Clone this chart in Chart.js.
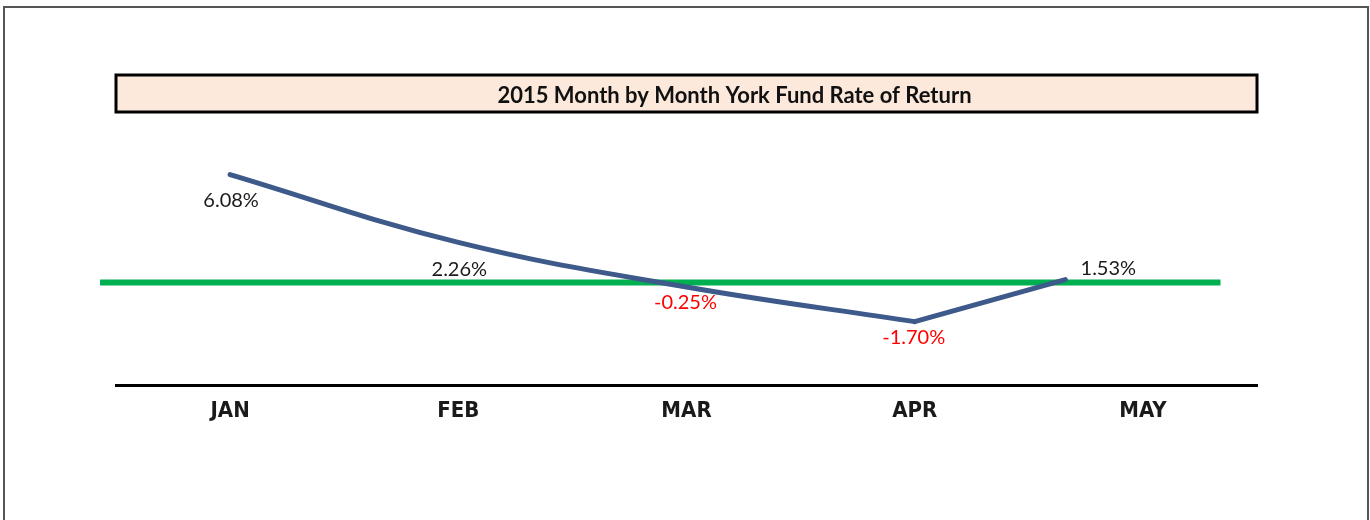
<!DOCTYPE html>
<html>
<head>
<meta charset="utf-8">
<script src="https://cdn.jsdelivr.net/npm/chart.js@4.4.0/dist/chart.umd.min.js"></script>
<style>
  body { margin: 0; background: #fff; overflow: hidden; }
  #frame { position: absolute; left: 3px; top: 6px; width: 1362px; height: 600px; border: 2px solid #555; border-bottom: none; }
  #wrap { position: absolute; left: 0; top: 0; }
</style>
</head>
<body>
<div id="frame"></div>
<div id="wrap"><canvas id="fund-chart" width="1370" height="520"></canvas></div>
<script>
// ===== chart data =====
const chartTitle = '2015 Month by Month York Fund Rate of Return';
const months = ['JAN', 'FEB', 'MAR', 'APR', 'MAY'];
const returns = [6.08, 2.26, -0.25, -1.70, 1.53];      // values printed as labels

// where the drawn curve actually sits (x = month index)
const curveMonths = [0, 1, 2, 3];
const curveValues = [6.08, 2.26, -0.25, -2.2];
const tailMonths = [3, 3.66];
const tailValues = [-2.2, 0.17];

// green zero line
const zeroMonths = [-0.57, 4.34];
const zeroValues = [0, 0];

const toPoints = (xs, ys) => xs.map((x, i) => ({ x: x, y: ys[i] }));

// ===== title box drawn above the plot =====
const titleBox = {
    id: 'titleBox',
    beforeDraw(chart) {
        const ctx = chart.ctx;
        const area = chart.chartArea;
        ctx.save();
        ctx.fillStyle = '#fce9db';
        ctx.fillRect(area.left, 75, area.right - area.left, 37);
        ctx.lineWidth = 3;
        ctx.strokeStyle = '#000';
        ctx.strokeRect(area.left, 75, area.right - area.left, 37);
        ctx.fillStyle = '#111';
        ctx.font = 'bold 22px Lato, sans-serif';
        ctx.textAlign = 'center';
        ctx.textBaseline = 'middle';
        ctx.fillText(chartTitle, (area.left + area.right) / 2 + 48, 96);
        ctx.restore();
    }
};

// ===== percentage labels next to the curve =====
const labelOffsets = [[1, 26], [1, 27], [-1, 16], [-1, 16], [43, -11]];
const returnLabels = {
    id: 'returnLabels',
    afterDatasetsDraw(chart) {
        const ctx = chart.ctx;
        const curve = chart.getDatasetMeta(0).data;
        const tail = chart.getDatasetMeta(1).data;
        ctx.save();
        ctx.font = '20px Lato, sans-serif';
        ctx.textAlign = 'center';
        ctx.textBaseline = 'middle';
        returns.forEach((val, i) => {
            const anchor = i < curve.length ? curve[i] : tail[tail.length - 1];
            ctx.fillStyle = val < 0 ? '#ff0000' : '#1a1a1a';
            ctx.fillText(val.toFixed(2) + '%', anchor.x + labelOffsets[i][0], anchor.y + labelOffsets[i][1]);
        });
        ctx.restore();
    }
};

const ctx = document.getElementById('fund-chart').getContext('2d');
new Chart(ctx, {
    type: 'line',
    data: {
        datasets: [{
            label: 'Rate of Return',
            data: toPoints(curveMonths, curveValues),
            borderColor: '#3d5a8a',
            borderWidth: 5,
            tension: 0.4,
            pointRadius: 0,
            borderCapStyle: 'round',
            order: 1
        }, {
            label: 'Rate of Return (MAY)',
            data: toPoints(tailMonths, tailValues),
            borderColor: '#3d5a8a',
            borderWidth: 5,
            tension: 0,
            pointRadius: 0,
            borderCapStyle: 'round',
            order: 1
        }, {
            label: 'Zero',
            data: toPoints(zeroMonths, zeroValues),
            borderColor: '#00b050',
            borderWidth: 6,
            pointRadius: 0,
            clip: false,
            order: 3
        }]
    },
    options: {
        responsive: false,
        animation: false,
        layout: { padding: { top: 120, left: 116, right: 113, bottom: 84 } },
        plugins: {
            legend: { display: false },
            tooltip: { enabled: false },
            title: { display: false }
        },
        scales: {
            x: {
                type: 'linear',
                min: -0.5,
                max: 4.5,
                afterBuildTicks: scale => { scale.ticks = months.map((m, i) => ({ value: i })); },
                ticks: {
                    callback: v => months[v],
                    color: '#1a1a1a',
                    font: { family: "'Liberation Sans Narrow', 'Arial Narrow', 'DejaVu Sans Condensed', sans-serif", size: 22, weight: 'bold' },
                    padding: 12,
                    autoSkip: false,
                    maxRotation: 0
                },
                grid: { display: false, drawTicks: false },
                border: { display: true, color: '#000', width: 3 }
            },
            y: { display: false, min: -5.8, max: 9.15 }
        }
    },
    plugins: [titleBox, returnLabels]
});
</script>
</body>
</html>
